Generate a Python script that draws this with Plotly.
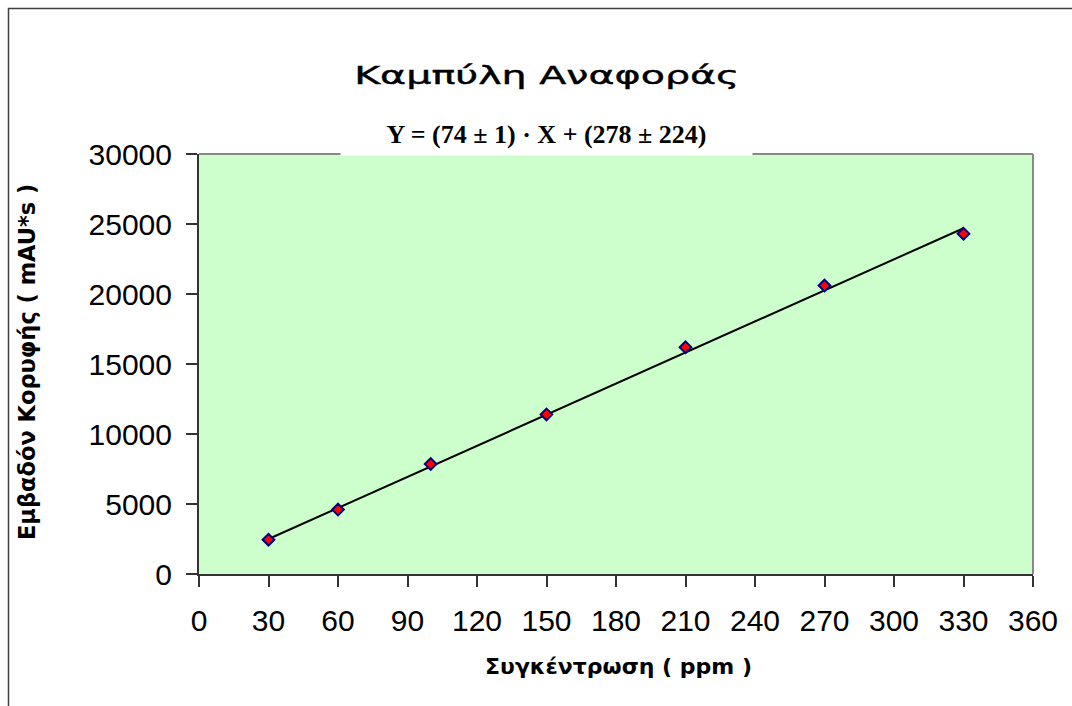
import plotly.graph_objects as go

# Data
conc_ppm = [30, 60, 100, 150, 210, 270, 330]
peak_area = [2450, 4600, 7850, 11400, 16200, 20600, 24300]
fit_slope = 74
fit_intercept = 278
fit_x_range = [30, 330]
x_ticks = [0, 30, 60, 90, 120, 150, 180, 210, 240, 270, 300, 330, 360]
y_ticks = [0, 5000, 10000, 15000, 20000, 25000, 30000]

title_text = "Καμπύλη Αναφοράς"
subtitle_text = "<b>Y = (74 ± 1) · X + (278 ± 224)</b>"
x_title = "<b>Συγκέντρωση ( ppm )</b>"
y_title = "<b>Εμβαδόν Κορυφής ( mAU*s )</b>"

W, H = 1072, 706
L, R, T, B = 199, 1033, 154, 574

def px(x):
    return (x - L) / (R - L)

def py(y):
    return (B - y) / (B - T)

fit_y = [fit_slope * x + fit_intercept for x in fit_x_range]

fig = go.Figure()
fig.add_trace(go.Scatter(x=fit_x_range, y=fit_y, mode="lines",
                         line=dict(color="black", width=2), hoverinfo="skip"))
fig.add_trace(go.Scatter(x=conc_ppm, y=peak_area, mode="markers",
                         marker=dict(symbol="diamond", size=9, color="#FF0000",
                                     line=dict(color="#000080", width=2))))

axis_common = dict(showgrid=False, zeroline=False, ticks="outside", ticklen=11,
                   tickcolor="#333333", tickwidth=1.5, tickformat="d",
                   tickfont=dict(family="Liberation Sans, Arial", size=30, color="black"))

fig.update_layout(
    width=W, height=H,
    margin=dict(l=L, r=W - R, t=T, b=H - B, pad=0),
    paper_bgcolor="white", plot_bgcolor="#CCFFCC",
    showlegend=False,
    separators=".,",
    xaxis=dict(range=[0, 360], tickvals=x_ticks, showline=True, linecolor="#333333",
               linewidth=2, mirror=False, ticklabelstandoff=8, **axis_common),
    yaxis=dict(range=[0, 30000], tickvals=y_ticks, showline=True, linecolor="#333333",
               linewidth=2, mirror=False, ticklabelstandoff=8, **axis_common),
    shapes=[
        dict(type="line", xref="paper", yref="paper", x0=0, x1=1, y0=1, y1=1,
             line=dict(color="#888888", width=2)),
        dict(type="line", xref="paper", yref="paper", x0=1, x1=1, y0=0, y1=1,
             line=dict(color="#888888", width=2)),
        dict(type="rect", xref="paper", yref="paper",
             x0=px(8.5), x1=px(1090), y0=py(8.5), y1=py(720),
             line=dict(color="#404040", width=1.5), fillcolor="rgba(0,0,0,0)", layer="below"),
    ],
    annotations=[
        dict(text=title_text, xref="paper", yref="paper", x=px(547), y=py(76),
             xanchor="center", yanchor="middle", showarrow=False,
             font=dict(family="DejaVu Sans", size=24, color="black")),
        dict(text=subtitle_text, xref="paper", yref="paper", x=px(546.5), y=py(134),
             xanchor="center", yanchor="middle", showarrow=False,
             bgcolor="white", width=409, height=40,
             font=dict(family="Liberation Serif, Times New Roman", size=26, color="black")),
        dict(text=x_title, xref="paper", yref="paper", x=px(618), y=py(666),
             xanchor="center", yanchor="middle", showarrow=False,
             font=dict(family="DejaVu Sans", size=22, color="black")),
        dict(text=y_title, xref="paper", yref="paper", x=px(27), y=py(362),
             xanchor="center", yanchor="middle", showarrow=False, textangle=-90,
             font=dict(family="DejaVu Sans", size=22.5, color="black")),
    ],
)

post = """
var gd = document.getElementById('{plot_id}');
var t = gd.querySelector('.annotation[data-index="0"] .annotation-text');
if (t) {
  t.style.transformBox = 'fill-box';
  t.style.transformOrigin = 'center';
  t.style.transform = 'scaleX(1.65)';
  t.style.stroke = 'black';
  t.style.strokeWidth = '0.4px';
}
"""

fig.write_html("out.html", post_script=post)
